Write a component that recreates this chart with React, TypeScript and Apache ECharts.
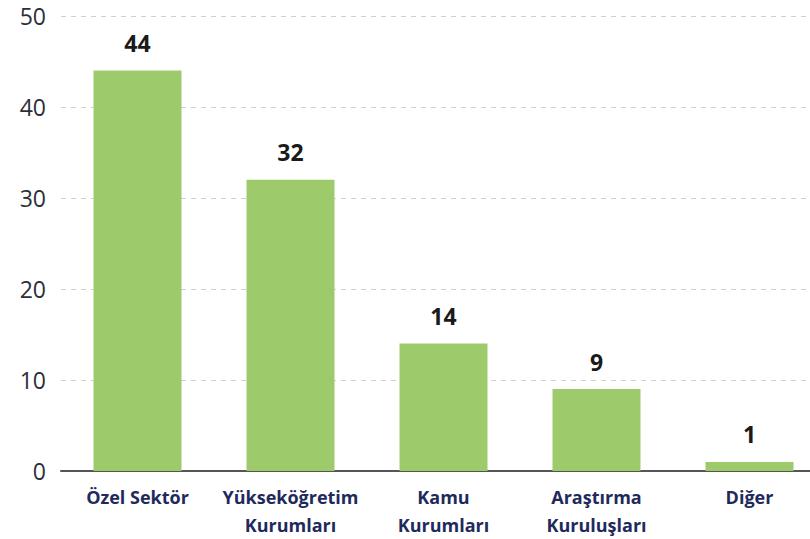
import React, { useEffect, useRef } from "react";
import * as echarts from "echarts";

const categories = ["Özel Sektör", "Yükseköğretim\nKurumları", "Kamu\nKurumları", "Araştırma\nKuruluşları", "Diğer"];
const values = [44, 32, 14, 9, 1];
const yTicks = { min: 0, max: 50, interval: 10 };

export default function App() {
  const ref = useRef<HTMLDivElement>(null);
  useEffect(() => {
    const chart = echarts.init(ref.current!, null, { renderer: "svg" });
    chart.setOption({
      animation: false,
      backgroundColor: "#ffffff",
      textStyle: { fontFamily: "Open Sans" },
      grid: { left: 61, top: 16, right: 0, bottom: 67, containLabel: false },
      xAxis: {
        type: "category",
        data: categories,
        axisLine: { show: true, lineStyle: { color: "#555555", width: 2 } },
        axisTick: { show: false },
        axisLabel: {
          color: "#1f2a5c",
          fontWeight: "bold",
          fontSize: 18,
          lineHeight: 28,
          margin: 12,
          interval: 0,
          fontFamily: "Open Sans",
        },
      },
      yAxis: {
        type: "value",
        min: yTicks.min,
        max: yTicks.max,
        interval: yTicks.interval,
        axisLine: { show: false },
        axisTick: { show: false },
        axisLabel: { color: "#2a2f3a", fontSize: 23, margin: 15, fontFamily: "Open Sans" },
        splitLine: { show: true, lineStyle: { color: "#d0d0d0", type: [5, 5], width: 1 } },
      },
      series: [
        {
          type: "bar",
          data: values,
          barWidth: 88,
          itemStyle: { color: "#9dcb6c" },
          label: {
            show: true,
            position: "top",
            distance: 16,
            color: "#1a1a1a",
            fontWeight: "bold",
            fontSize: 23,
            fontFamily: "Open Sans",
          },
        },
      ],
    });
    return () => chart.dispose();
  }, []);
  return (
    <div style={{ position: "fixed", left: 0, top: 0, width: 810, height: 539, overflow: "hidden" }}>
      <div ref={ref} style={{ width: 826, height: 539 }} />
    </div>
  );
}
